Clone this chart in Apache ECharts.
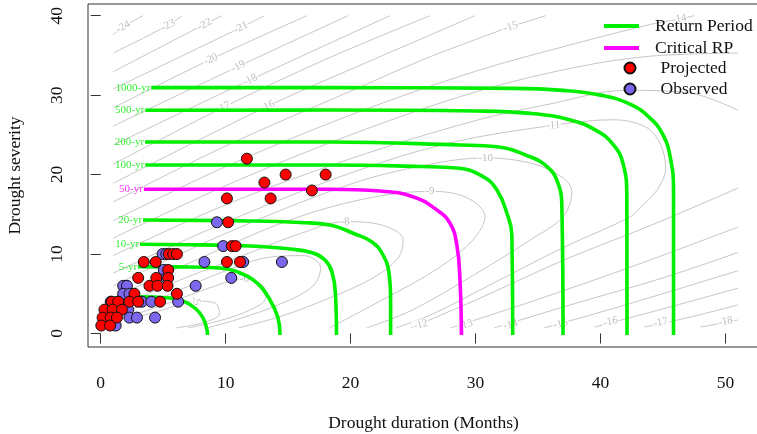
<!DOCTYPE html>
<html><head><meta charset="utf-8">
<script src="https://cdn.jsdelivr.net/npm/echarts@6.0.0/dist/echarts.min.js"></script>
<style>html,body{margin:0;padding:0;background:#fff}#c{width:757px;height:434px}</style>
</head><body><div id="c"></div>
<script>
// ---------- data ----------
const xTicks = [0, 10, 20, 30, 40, 50];
const yTicks = [0, 10, 20, 30, 40];

// Observed events (duration, severity)
const obsD = [9.3, 9.8, 4.95, 5.25, 8.3, 11.4, 14.5, 5.05, 5.25, 10.45, 1.8, 2.1, 7.6, 1.8, 2.3, 0.8, 1.4, 3.3, 4.05, 6.2, 1.5, 2.2, 2.3, 2.9, 4.35, 1.2, 0.5];
const obsS = [14, 11, 10, 10, 9, 9, 9, 8, 7, 7, 6, 6, 6, 5, 5, 4, 4, 4, 4, 4, 3, 3, 2, 2, 2, 1, 2];
// Projected events
const projD = [11.7, 14.8, 18.0, 13.1, 16.9, 10.1, 13.6, 10.2, 10.5, 10.8, 5.45, 5.8, 6.1, 3.45, 4.4, 10.1, 11.15, 5.4, 3.0, 4.45, 5.4, 3.9, 4.55, 5.35, 2.7, 6.1, 0.9, 1.4, 2.3, 3.0, 4.75, 0.3, 0.95, 1.7, 0.15, 0.8, 1.3, 0.05, 0.75];
const projS = [22, 20, 20, 19, 18, 17, 17, 14, 11, 11, 10, 10, 10, 9, 9, 9, 9, 8, 7, 7, 7, 6, 6, 6, 5, 5, 4, 4, 4, 4, 4, 3, 3, 3, 2, 2, 2, 1, 1];

// Return-period curves (duration, severity)
const rpNames = ['2-yr', '5-yr', '10-yr', '20-yr', '50-yr', '100-yr', '200-yr', '500-yr', '1000-yr'];
const rp2 = [[2.75,4.63],[5.55,4.47],[6.75,3.97],[7.63,3.08],[8.19,1.95],[8.5,0.5],[8.55,-0.2]];
const rp5 = [[2.99,8.41],[6,8.38],[9.55,8.24],[10.9,7.78],[12.5,6.36],[13.55,4.22],[14.19,1.95],[14.35,-0.2]];
const rp10 = [[3.15,11.24],[8,11.15],[11.95,11.01],[15.15,10.63],[17.0,10.13],[17.95,9.25],[18.51,7.74],[18.79,4.85],[18.87,-0.2]];
const rp20 = [[3.39,14.29],[11.95,14.16],[15.95,13.97],[18.35,13.66],[20.35,12.52],[21.71,11.52],[22.59,9.88],[23.07,7.61],[23.2,4.22],[23.2,-0.2]];
const rp50 = [[3.46,18.15],[18.35,18.15],[22.34,17.93],[24.99,17.22],[26.91,15.54],[27.95,13.9],[28.5,11.14],[28.75,6.73],[28.87,-0.2]];
const rp100 = [[3.57,21.21],[18.35,21.21],[25.55,21.02],[28.5,20.83],[30.6,19.74],[31.71,18.06],[32.5,15.17],[32.9,12.4],[32.97,-0.2]];
const rp200 = [[3.55,24.1],[18.35,24.1],[28.75,23.73],[31.7,23.5],[34.36,22.25],[35.72,21.0],[36.5,19.3],[36.9,16.2],[37.0,-0.2]];
const rp500 = [[3.57,28.09],[18,28.12],[30,28.0],[34.4,27.7],[37.5,26.9],[39.6,25.6],[41.0,23.8],[41.8,21.4],[42.1,17.2],[42.12,-0.2]];
const rp1000 = [[4.05,30.94],[18,30.94],[33,30.85],[37,30.6],[40,30.0],[42.3,28.9],[43.9,27.2],[45.0,25.0],[45.6,22.0],[45.84,18],[45.84,-0.2]];
const rpLabelShown = [false, true, true, true, true, true, true, true, true];

// Log-density contour lines (duration, severity)
const cm24 = [[1,37.6],[1.8,38.6],[3.4,40]];
const cm23 = [[1,35.3],[5.4,38.8],[6.5,40]];
const cm22 = [[1,32.95],[8.3,38.9],[9.7,40]];
const cm21 = [[1,30.77],[11.2,38.5],[13.1,40]];
const cm20 = [[1,28.4],[8.8,34.5],[16.5,40]];
const cm19 = [[1,26.1],[11,33.6],[19.8,40]];
const cm18 = [[1,23.7],[11.95,31.9],[23.15,40]];
const cm17 = [[1,21.3],[9.8,28.45],[18,34.5],[26.35,40]];
const cm16 = [[1,18.9],[13.35,28.6],[22,34.6],[29.95,40]];
const cm15 = [[1,16.55],[10,23.6],[20,30.5],[26,34.6],[30,37],[32.8,38.6],[35.6,40]];
const cm14 = [[1,14.2],[10,21],[20,27.5],[30,33],[38,36.5],[44,38.9],[46.3,39.6],[47.5,40]];
const cm13 = [[1,12],[10,18.6],[20,25],[30,30.4],[38,33.5],[44,34.9],[51,35.3]];
const cm12 = [[1,9.8],[10,16.2],[20,22],[30,26.8],[36,28.9],[42,30.6],[47,30.3],[51,28.1]];
const cm11 = [[1,7.6],[10,14],[20,20.2],[28,24],[36.2,26.2],[41,26.9],[43.6,26],[44.8,23.8],[45.2,20.8],[44.5,18],[43.2,15.9],[42.4,14.7],[37,10.8],[31,6],[26.5,2.4],[23.6,0.7]];
const cm10 = [[1,6],[10,12.6],[20,18.8],[26,21.2],[30.8,22.1],[34.5,21.4],[37,19.6],[37.7,17.85],[37,14.7],[34.4,11.8],[30,7.5],[25,3],[21.3,0.7]];
const cm9 = [[1,4.5],[8,9.5],[15,14.2],[21,16.9],[26.35,17.9],[29.3,17.1],[30.75,14.7],[29.8,11.8],[27,8.2],[22.5,4.2],[18.3,0.7]];
const cm8 = [[1,3.1],[6,6.5],[12,10.2],[16,12.6],[19.55,14.07],[22.6,13.6],[24.2,11.8],[23.8,9.5],[21.8,7],[18.35,4.5],[14.5,2.2],[11,0.7]];
const cm7 = [[1,2.2],[5,4.6],[10,7.9],[13.5,9.6],[16.3,9.8],[17.6,8.3],[17,6],[14.5,3.8],[11,1.8],[8.5,0.7]];
const cm6 = [[1,1.5],[5,3.6],[9,5.9],[11.5,6.9],[13,6],[13.2,4.5],[12,3],[9.5,1.6],[7,0.7]];
const cm5 = [[2,1.6],[5,3.0],[7.5,4.1],[9.2,3.8],[9.5,2.5],[8.3,1.4],[6,0.7]];
const cm12b = [[24.8,0.7],[30,4.2],[37,9.2],[44,13.6],[51,18.3]];
const cm13b = [[28,0.7],[35,4.3],[43,8.7],[51,13.4]];
const cm14b = [[31.5,0.7],[38,3.8],[45,7],[51,10.2]];
const cm15b = [[35.5,0.7],[42,3.6],[51,7.9]];
const cm16b = [[39.5,0.8],[45,3.1],[51,5.7]];
const cm17b = [[43.5,0.8],[47,2.0],[51,3.6]];
const cm18b = [[48,0.8],[51,1.7]];
const contourLines = [cm24, cm23, cm22, cm21, cm20, cm19, cm18, cm17, cm16, cm15, cm14, cm13, cm12, cm11, cm10, cm9, cm8, cm7, cm6, cm5, cm12b, cm13b, cm14b, cm15b, cm16b, cm17b, cm18b];

// Contour labels: text, duration, severity
const cLabText = ['-24','-23','-22','-21','-20','-19','-18','-17','-16','-15','-14','-11','-10','-9','-8','-6','-5','-12','-13','-14','-15','-16','-17','-18'];
const cLabD = [1.8, 5.4, 8.3, 11.2, 8.8, 11.0, 11.95, 9.8, 13.35, 32.8, 46.3, 36.2, 30.8, 26.35, 19.55, 11.5, 7.6, 25.6, 29.2, 32.8, 36.8, 40.8, 44.8, 50.0];
const cLabS = [38.6, 38.8, 38.9, 38.5, 34.5, 33.6, 31.9, 28.45, 28.6, 38.6, 39.6, 26.2, 22.1, 17.9, 14.07, 6.8, 4.1, 1.1, 1.1, 1.1, 1.2, 1.5, 1.4, 1.5];
const cLabAngle = [30, 28, 28, 28, 26, 26, 26, 26, 26, 18, 10, 3, 0, 0, 3, 0, -60, 14, 14, 14, 14, 12, 12, 10];

// ---------- chart ----------
const FONT = "'Liberation Serif','Times New Roman',serif";
const GRAY = '#c6c6c6';
const GREEN = '#00ee00';
const MAGENTA = '#ff00ff';

const series = [];
contourLines.forEach(function (pts) {
  series.push({ type: 'line', data: pts, smooth: 0.35, showSymbol: false, symbol: 'none', silent: true,
    lineStyle: { color: GRAY, width: 1 }, z: 1, animation: false });
});
series.push({
  type: 'scatter', silent: true, symbolSize: 0, z: 2,
  data: cLabText.map(function (t, i) {
    return { value: [cLabD[i], cLabS[i]], label: { rotate: cLabAngle[i], formatter: t } };
  }),
  label: { show: true, position: 'inside', color: '#b0b0b0', fontSize: 11, fontFamily: FONT, backgroundColor: '#fff', padding: [0, 1] }
});
const rpCurves = [rp2, rp5, rp10, rp20, rp50, rp100, rp200, rp500, rp1000];
rpCurves.forEach(function (pts, i) {
  const crit = rpNames[i] === '50-yr';
  series.push({ type: 'line', name: crit ? 'Critical RP' : 'Return Period', data: pts, smooth: 0.45, symbol: 'none', silent: true,
    lineStyle: { color: crit ? MAGENTA : GREEN, width: 3.6 }, itemStyle: { color: crit ? MAGENTA : GREEN }, z: 3 });
});
series.push({
  type: 'scatter', silent: true, symbolSize: 0, z: 3,
  data: rpCurves.map(function (pts, i) {
    return rpLabelShown[i] ? { value: pts[0], label: { formatter: rpNames[i], color: rpNames[i] === '50-yr' ? MAGENTA : GREEN } } : null;
  }).filter(Boolean),
  label: { show: true, position: 'left', distance: 1, fontSize: 11, fontFamily: FONT }
});
series.push({
  type: 'scatter', name: 'Observed', z: 4, symbolSize: 11,
  data: obsD.map(function (d, i) { return [d, obsS[i]]; }),
  itemStyle: { color: '#7B68EE', borderColor: '#111', borderWidth: 1, opacity: 1 }
});
series.push({
  type: 'scatter', name: 'Projected', z: 5, symbolSize: 11,
  data: projD.map(function (d, i) { return [d, projS[i]]; }),
  itemStyle: { color: '#ff0000', borderColor: '#111', borderWidth: 1, opacity: 1 }
});

function legendItem(name, icon, left, top, w, h, pad) {
  return { data: [{ name: name, icon: icon }], left: left, top: top, padding: 0, itemWidth: w, itemHeight: h,
    selectedMode: false, textStyle: { fontSize: 17.5, fontFamily: FONT, color: '#111', padding: [0, 0, 0, pad] } };
}

const option = {
  animation: false,
  backgroundColor: '#fff',
  grid: { left: 88, top: 4, width: 671, height: 343, show: true, borderColor: '#333', borderWidth: 1,
    backgroundColor: 'transparent', containLabel: false, outerBoundsMode: 'none' },
  xAxis: {
    type: 'value', min: -1.016, max: 52.68,
    name: 'Drought duration (Months)', nameLocation: 'middle', nameGap: 67,
    nameTextStyle: { fontSize: 17.5, fontFamily: FONT, color: '#111' },
    axisLine: { show: false },
    axisTick: { show: true, length: 10, customValues: xTicks, lineStyle: { color: '#333' } },
    axisLabel: { customValues: xTicks, fontSize: 17.5, fontFamily: FONT, color: '#111', margin: 27 },
    splitLine: { show: false }
  },
  yAxis: {
    type: 'value', min: -1.70, max: 41.47,
    name: 'Drought severity', nameLocation: 'middle', nameGap: 64, nameRotate: 90,
    nameTextStyle: { fontSize: 17.5, fontFamily: FONT, color: '#111' },
    axisLine: { show: false },
    axisTick: { show: true, length: 10, customValues: yTicks, lineStyle: { color: '#333' } },
    axisLabel: { customValues: yTicks, fontSize: 17.5, fontFamily: FONT, color: '#111', margin: 22, rotate: 90 },
    splitLine: { show: false }
  },
  legend: [
    legendItem('Return Period', 'rect', 604, 17, 35, 4, 11),
    legendItem('Critical RP', 'rect', 604, 39, 35, 4, 11),
    legendItem('Projected', 'circle', 623.5, 59, 11, 11, 20),
    legendItem('Observed', 'circle', 623.5, 80, 11, 11, 20)
  ],
  series: series
};
const chart = echarts.init(document.getElementById('c'), null, { renderer: 'canvas' });
chart.setOption(option);
</script></body></html>
